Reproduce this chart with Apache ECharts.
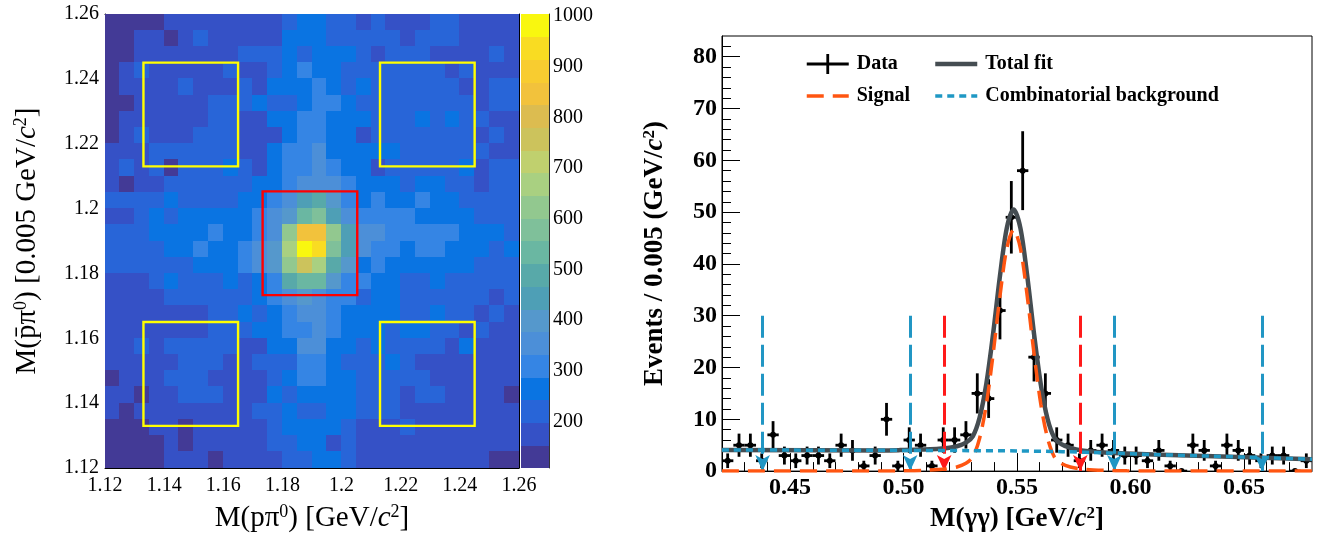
<!DOCTYPE html>
<html>
<head>
<meta charset="utf-8">
<script src="https://cdn.jsdelivr.net/npm/echarts@6/dist/echarts.min.js"></script>
<style>
  html, body { margin: 0; padding: 0; background: #ffffff; }
  #chart { width: 1325px; height: 538px; }
</style>
</head>
<body>
<div id="chart"></div>
<script>
const SERIF = "'Liberation Serif', 'Times New Roman', 'DejaVu Serif', serif";

// ---------- 2D histogram: M(p pi0) vs M(pbar pi0), 0.005 GeV bins ----------
const massLow = 1.12;
const massBinWidth = 0.005;
const nMassBins = 28;
// bin contents, rows from the top (M(pbar pi0) = 1.255-1.26) to the bottom (1.12-1.125)
const counts2D = [
  [130,130,130,130,175,175,175,175,175,175,175,175,220,265, 265,220,220,175,220,175,175,175,220,220,175,175,175,175],
  [130,130,175,175,130,175,220,175,175,175,175,175,265,265, 265,220,220,220,220,220,175,220,220,220,175,175,175,175],
  [130,130,175,175,175,175,175,175,175,220,220,220,265,220, 265,265,265,220,175,220,220,220,175,175,175,175,220,175],
  [130,175,220,175,175,175,175,175,220,175,175,220,265,310, 265,265,220,220,220,220,220,220,220,175,220,175,175,175],
  [130,175,175,175,175,220,175,175,175,220,175,265,265,265, 310,265,220,265,220,220,220,220,220,220,175,175,220,220],
  [130,130,175,175,175,175,175,220,220,220,265,220,220,265, 310,310,265,220,220,220,220,220,220,220,220,175,220,220],
  [130,175,175,175,175,175,175,220,220,175,175,265,265,310, 310,265,265,265,220,220,220,265,220,265,220,220,175,175],
  [130,175,220,175,175,175,220,220,220,175,175,175,265,310, 310,265,265,175,220,220,220,220,220,220,220,175,220,175],
  [175,175,175,220,220,220,220,220,220,175,175,265,310,310, 355,265,265,265,265,265,220,220,220,220,220,220,175,175],
  [175,220,175,220,130,220,220,220,265,220,175,265,310,310, 355,310,265,265,175,220,220,220,220,220,265,175,220,220],
  [175,130,175,175,220,220,220,220,220,220,265,265,310,355, 355,355,310,265,265,265,220,265,265,220,220,175,220,220],
  [220,220,220,220,265,220,220,220,220,265,265,310,355,445, 490,400,310,265,310,265,265,310,265,265,220,220,220,220],
  [175,175,220,265,220,265,265,265,265,265,310,355,400,535, 580,445,355,310,310,310,310,265,265,265,265,220,220,220],
  [220,220,220,265,265,265,265,310,265,265,310,355,625,850, 850,625,445,355,355,310,310,310,310,310,265,265,265,220],
  [220,220,220,220,265,265,310,265,265,310,355,400,670,1004,935,580,445,355,310,310,265,310,310,265,265,265,220,265],
  [220,220,220,220,220,220,265,265,265,310,355,400,625,760, 670,490,400,265,310,265,265,265,265,265,265,220,220,220],
  [175,175,175,220,265,220,220,220,265,220,265,310,490,535, 535,400,310,310,265,265,220,220,265,220,220,220,220,220],
  [175,175,175,175,220,220,220,220,220,220,265,310,355,400, 355,310,310,220,265,265,220,220,220,220,220,220,175,220],
  [175,175,175,175,175,175,175,220,220,265,220,265,310,355, 355,310,265,265,265,265,220,220,265,220,220,175,220,175],
  [175,175,175,175,175,175,175,220,220,220,265,265,310,310, 355,310,265,265,265,220,265,265,220,220,175,220,175,175],
  [175,175,220,175,220,220,220,220,220,175,175,265,265,355, 355,265,265,220,265,220,220,220,220,175,265,175,175,175],
  [175,175,175,175,175,220,220,220,175,175,220,220,220,310, 310,265,220,220,220,265,220,175,175,175,175,175,175,175],
  [130,175,175,175,220,220,220,175,175,175,175,220,265,310, 310,265,265,220,220,220,220,220,175,175,175,175,175,175],
  [175,175,130,175,175,220,220,220,175,175,175,265,220,265, 265,265,265,220,220,220,175,220,220,175,175,175,175,130],
  [175,130,175,175,175,175,175,175,175,175,220,220,265,220, 220,265,265,220,220,220,175,175,175,175,175,175,175,175],
  [130,130,130,175,175,130,175,175,175,175,175,220,265,265, 265,265,220,175,175,175,220,175,175,175,175,175,175,175],
  [130,130,130,130,175,130,175,175,175,175,175,220,220,265, 265,175,220,175,175,175,175,175,175,175,175,175,175,175],
  [130,130,130,130,175,175,175,130,175,175,175,175,220,220, 265,265,220,175,175,175,175,175,175,175,175,175,130,130]
];
// colour scale range and its 20 contour colours (low to high)
const zMin = 108.5;
const zMax = 1004;
const birdContours = [
  '#433a96', '#3551c6', '#2865d8', '#0a74e2', '#3585e4',
  '#4c8fd8', '#5598cc', '#4e9fb6', '#58a9a9', '#6ab7a2',
  '#7fc09a', '#92c88f', '#a9d081', '#c0d06e', '#ccc35c',
  '#dcbc50', '#f2c23c', '#f8cc30', '#f9dc22', '#f9f70f'
];
const colorbarTicks = [200, 300, 400, 500, 600, 700, 800, 900, 1000];

// Sigma+ signal window and the sideband windows (same in both masses)
const signalWindow = [1.1733, 1.2053];
const sidebandWindows = [[1.1330, 1.1650], [1.2130, 1.2450]];

// ---------- M(gamma gamma) fit ----------
const ggLow = 0.42;
const ggBinWidth = 0.005;
const ggCounts = [2,5,5,2,7,3,2,3,3,2,5,4,1,3,10,1,6,5,1,6,6,7,15,14,31,49,58,22,15,6,5,2,4,5,4,3,3,2,4,1,0,5,4,1,5,4,3,2,3,3,0,2];

const signalX = [0.420,0.490,0.4985,0.5085,0.5185,0.5235,0.5275,0.5305,0.5335,0.5365,0.5395,0.5425,0.5455,0.5485,0.5515,0.5545,0.5575,0.5605,0.5635,0.5665,0.5695,0.5735,0.5785,0.5885,0.5985,0.610,0.680];
const signalY = [0,0,0.05,0.15,0.4,0.8,1.5,2.7,6.3,12.9,22.7,33.8,43.0,46.6,43.0,33.8,22.7,12.9,6.3,2.7,1.5,0.8,0.4,0.15,0.05,0,0];
const totalX = signalX;
const totalY = [4.05,4.0,4.05,4.15,4.4,4.8,5.5,6.7,10.3,16.9,26.6,37.7,46.9,50.5,46.9,37.7,26.5,16.7,10.0,6.4,5.2,4.5,4.0,3.6,3.4,3.2,2.3];
const bkgX = [0.42,0.45,0.50,0.53,0.55,0.57,0.59,0.61,0.63,0.65,0.68];
const bkgY = [4.05,4.05,4.0,3.95,3.9,3.75,3.5,3.2,2.95,2.7,2.3];

const signalCuts = [0.5179, 0.5779];
const sidebandCuts = [0.4379, 0.5029, 0.5929, 0.6579];
const cutHeight = 30;

const ggMajorTicks = [0.45, 0.50, 0.55, 0.60, 0.65];
const ggMinorTicks = [0.43,0.44,0.46,0.47,0.48,0.49,0.51,0.52,0.53,0.54,0.56,0.57,0.58,0.59,0.61,0.62,0.63,0.64,0.66,0.67];
const eventMajorTicks = [0, 10, 20, 30, 40, 50, 60, 70, 80];
const eventMinorTicks = [2,4,6,8,12,14,16,18,22,24,26,28,32,34,36,38,42,44,46,48,52,54,56,58,62,64,66,68,72,74,76,78,82];

// ---------- build series data ----------
const heatData = [];
counts2D.forEach((row, r) => {
  row.forEach((v, c) => {
    const x = massLow + (c + 0.5) * massBinWidth;
    const y = massLow + (nMassBins - r - 0.5) * massBinWidth;
    heatData.push([x, y, v]);
  });
});
const zStep = (zMax - zMin) / birdContours.length;
const colorbarData = birdContours.map((_, i) => [0, zMin + i * zStep, zMin + (i + 0.5) * zStep]);
const contourPieces = birdContours.map((color, i) => (
  i === birdContours.length - 1
    ? { gte: zMin + i * zStep, lte: zMax + 1, color }
    : { gte: zMin + i * zStep, lt: zMin + (i + 1) * zStep, color }
));

const sidebandBoxes = [];
sidebandWindows.forEach(wx => sidebandWindows.forEach(wy => sidebandBoxes.push([wx[0], wy[0], wx[1], wy[1]])));
const signalBoxes = [[signalWindow[0], signalWindow[0], signalWindow[1], signalWindow[1]]];

const ggData = ggCounts.map((n, i) => [ggLow + (i + 0.5) * ggBinWidth, n]);
const pairs = (xs, ys) => xs.map((x, i) => [x, ys[i]]);

// ---------- renderers ----------
function renderCell(params, api) {
  const h = massBinWidth / 2;
  const a = api.coord([api.value(0) - h, api.value(1) + h]);
  const b = api.coord([api.value(0) + h, api.value(1) - h]);
  // snap outward to whole pixels so neighbouring cells overlap instead of leaving seams
  const x0 = Math.floor(a[0]), y0 = Math.floor(a[1]);
  const x1 = Math.ceil(b[0]), y1 = Math.ceil(b[1]);
  return { type: 'rect', shape: { x: x0, y: y0, width: x1 - x0, height: y1 - y0 },
           style: { fill: api.visual('color') } };
}
function renderColorbar(params, api) {
  const a = api.coord([0, api.value(1) + zStep]);
  const b = api.coord([1, api.value(1)]);
  const y0 = Math.floor(a[1]), y1 = Math.ceil(b[1]);
  return { type: 'rect', shape: { x: a[0], y: y0, width: b[0] - a[0], height: y1 - y0 },
           style: { fill: api.visual('color') } };
}
function renderBox(params, api) {
  const a = api.coord([api.value(0), api.value(3)]);
  const b = api.coord([api.value(2), api.value(1)]);
  return { type: 'rect', shape: { x: a[0], y: a[1], width: b[0] - a[0], height: b[1] - a[1] },
           style: { fill: null, stroke: api.visual('color'), lineWidth: 2.4 } };
}
function renderPoint(params, api) {
  const x = api.value(0), n = api.value(1);
  const err = Math.sqrt(n);
  const h = ggBinWidth / 2;
  const l = api.coord([x - h, n]), r = api.coord([x + h, n]);
  const t = api.coord([x, n + err]), b = api.coord([x, Math.max(n - err, 0)]);
  const c = api.coord([x, n]);
  const st = { stroke: '#000', lineWidth: 2.8 };
  const children = [
    { type: 'line', shape: { x1: l[0], y1: l[1], x2: r[0], y2: r[1] }, style: st },
    { type: 'circle', shape: { cx: c[0], cy: c[1], r: 3 }, style: { fill: '#000' } }
  ];
  if (n > 0) children.push({ type: 'line', shape: { x1: t[0], y1: t[1], x2: b[0], y2: b[1] }, style: st });
  return { type: 'group', children };
}

// ---------- text styles ----------
const plainTick = { fontFamily: SERIF, fontSize: 20, color: '#000' };
const boldTick = { fontFamily: SERIF, fontSize: 24, fontWeight: 'bold', color: '#000' };
const richPlain = {
  i: { fontFamily: SERIF, fontSize: 29, fontStyle: 'italic', color: '#000' },
  s: { fontFamily: SERIF, fontSize: 18, color: '#000', verticalAlign: 'top', lineHeight: 30 }
};
const richBold = {
  i: { fontFamily: SERIF, fontSize: 27, fontStyle: 'italic', fontWeight: 'bold', color: '#000' },
  s: { fontFamily: SERIF, fontSize: 17, fontWeight: 'bold', color: '#000', verticalAlign: 'top', lineHeight: 29 }
};
const legendText = { fontFamily: SERIF, fontSize: 20, fontWeight: 'bold', color: '#000', padding: [0, 0, 0, 3] };
const hiddenMarker = { opacity: 0 };

const frameLine = { show: true, onZero: false, lineStyle: { color: '#000', width: 1 } };
const heatTick = { show: true, inside: true, length: 12, lineStyle: { color: '#000', width: 1 } };
const heatMinor = { show: true, splitNumber: 4, length: 6, lineStyle: { color: '#000', width: 1 } };

const chart = echarts.init(document.getElementById('chart'), null, { renderer: 'canvas' });
chart.setOption({
  animation: false,
  backgroundColor: '#ffffff',
  grid: [
    { left: 105, top: 14, width: 414, height: 454 },
    { left: 521, top: 14, width: 28, height: 454 },
    { left: 722, top: 36, width: 590, height: 441, show: true, borderColor: '#000', borderWidth: 1, backgroundColor: 'transparent' }
  ],
  xAxis: [
    { gridIndex: 0, type: 'value', min: 1.12, max: 1.26, interval: 0.02, position: 'bottom',
      axisLine: frameLine, axisTick: heatTick, minorTick: heatMinor, splitLine: { show: false },
      axisLabel: Object.assign({ margin: 8 }, plainTick),
      name: 'M(pπ{s|0}) [GeV/{i|c}{s|2}]', nameLocation: 'middle', nameGap: 35,
      nameTextStyle: { fontFamily: SERIF, fontSize: 29, color: '#000', rich: richPlain } },
    { gridIndex: 0, type: 'value', min: 1.12, max: 1.26, interval: 0.02, position: 'top',
      axisLine: frameLine, axisTick: heatTick, minorTick: heatMinor, splitLine: { show: false },
      axisLabel: { show: false } },
    { gridIndex: 1, type: 'value', min: 0, max: 1, show: false },
    { gridIndex: 2, type: 'value', min: 0.42, max: 0.68, position: 'bottom',
      axisLine: frameLine, splitLine: { show: false },
      axisTick: { show: true, inside: true, length: 18, customValues: ggMajorTicks, lineStyle: { color: '#000', width: 1 } },
      axisLabel: Object.assign({ customValues: ggMajorTicks, margin: 5, formatter: v => v.toFixed(2) }, boldTick),
      name: 'M(γγ) [GeV/{i|c}{s|2}]', nameLocation: 'middle', nameGap: 29,
      nameTextStyle: { fontFamily: SERIF, fontSize: 27, fontWeight: 'bold', color: '#000', rich: richBold } },
    { gridIndex: 2, type: 'value', min: 0.42, max: 0.68, position: 'bottom',
      axisLine: { show: false, onZero: false }, splitLine: { show: false }, axisLabel: { show: false },
      axisTick: { show: true, inside: true, length: 9, customValues: ggMinorTicks, lineStyle: { color: '#000', width: 1 } } }
  ],
  yAxis: [
    { gridIndex: 0, type: 'value', min: 1.12, max: 1.26, interval: 0.02, position: 'left',
      axisLine: frameLine, axisTick: heatTick, minorTick: heatMinor, splitLine: { show: false },
      axisLabel: Object.assign({ margin: 6 }, plainTick),
      name: 'M(p\u0304π{s|0}) [0.005 GeV/{i|c}{s|2}]', nameLocation: 'middle', nameGap: 63,
      nameTextStyle: { fontFamily: SERIF, fontSize: 29, color: '#000', rich: richPlain } },
    { gridIndex: 0, type: 'value', min: 1.12, max: 1.26, interval: 0.02, position: 'right',
      axisLine: frameLine, axisTick: heatTick, minorTick: heatMinor, splitLine: { show: false },
      axisLabel: { show: false } },
    { gridIndex: 1, type: 'value', min: zMin, max: zMax, position: 'right',
      axisLine: { show: true, onZero: false, lineStyle: { color: '#333', width: 1 } },
      axisTick: { show: true, inside: true, length: 14, customValues: colorbarTicks, lineStyle: { color: '#000', width: 1.2 } },
      axisLabel: Object.assign({ customValues: colorbarTicks, margin: 4, formatter: v => String(v) }, plainTick),
      splitLine: { show: false } },
    { gridIndex: 2, type: 'value', min: 0, max: 84, position: 'left',
      axisLine: frameLine, splitLine: { show: false },
      axisTick: { show: true, inside: true, length: 18, customValues: eventMajorTicks, lineStyle: { color: '#000', width: 1 } },
      axisLabel: Object.assign({ customValues: eventMajorTicks, margin: 5 }, boldTick),
      name: 'Events / 0.005 (GeV/{i|c}{s|2})', nameLocation: 'middle', nameGap: 52,
      nameTextStyle: { fontFamily: SERIF, fontSize: 27, fontWeight: 'bold', color: '#000', rich: richBold } },
    { gridIndex: 2, type: 'value', min: 0, max: 84, position: 'left',
      axisLine: { show: false, onZero: false }, splitLine: { show: false }, axisLabel: { show: false },
      axisTick: { show: true, inside: true, length: 9, customValues: eventMinorTicks, lineStyle: { color: '#000', width: 1 } } }
  ],
  visualMap: {
    type: 'piecewise', show: false, dimension: 2, seriesIndex: [0, 1],
    pieces: contourPieces
  },
  legend: [
    { left: 805, top: 54, padding: 0, orient: 'vertical', itemGap: 12, itemWidth: 42, itemHeight: 20,
      selectedMode: false, lineStyle: { width: 'inherit' }, textStyle: legendText,
      data: [{ name: 'Data', icon: 'path://M0,8.6h42v2.8h-42z M19.6,0h2.8v20h-2.8z' },
             { name: 'Signal', itemStyle: hiddenMarker }] },
    { left: 933, top: 54, padding: 0, orient: 'vertical', itemGap: 12, itemWidth: 42, itemHeight: 20,
      selectedMode: false, lineStyle: { width: 'inherit' }, textStyle: legendText,
      data: [{ name: 'Total fit', itemStyle: hiddenMarker },
             { name: 'Combinatorial background', itemStyle: hiddenMarker }] }
  ],
  series: [
    { type: 'custom', name: 'counts', xAxisIndex: 0, yAxisIndex: 0, renderItem: renderCell,
      data: heatData, silent: true },
    { type: 'custom', name: 'colorbar', xAxisIndex: 2, yAxisIndex: 2, renderItem: renderColorbar,
      data: colorbarData, silent: true },
    { type: 'custom', name: 'sidebands', xAxisIndex: 0, yAxisIndex: 0, renderItem: renderBox,
      itemStyle: { color: '#ffff00' }, data: sidebandBoxes, silent: true, z: 5 },
    { type: 'custom', name: 'signal region', xAxisIndex: 0, yAxisIndex: 0, renderItem: renderBox,
      itemStyle: { color: '#ff0000' }, data: signalBoxes, silent: true, z: 5 },
    { type: 'custom', name: 'Data', xAxisIndex: 3, yAxisIndex: 3, renderItem: renderPoint,
      itemStyle: { color: '#000' }, data: ggData, silent: true, clip: true, z: 3 },
    { type: 'line', name: 'Total fit', xAxisIndex: 3, yAxisIndex: 3, data: pairs(totalX, totalY),
      symbol: 'none', smooth: 0.3, lineStyle: { color: '#454d52', width: 4.5 }, itemStyle: { color: '#454d52' }, silent: true, z: 4 },
    { type: 'line', name: 'Signal', xAxisIndex: 3, yAxisIndex: 3, data: pairs(signalX, signalY),
      symbol: 'none', smooth: 0.3, lineStyle: { color: '#ff5511', width: 3.5, type: [17, 9] }, itemStyle: { color: '#ff5511' }, silent: true, z: 5 },
    { type: 'line', name: 'Combinatorial background', xAxisIndex: 3, yAxisIndex: 3, data: pairs(bkgX, bkgY),
      symbol: 'none', smooth: 0.3, lineStyle: { color: '#1f98c4', width: 3.5, type: [7, 5] }, itemStyle: { color: '#1f98c4' }, silent: true, z: 6 },
    { type: 'line', name: 'windows', xAxisIndex: 3, yAxisIndex: 3, data: [], silent: true, z: 7,
      markLine: {
        silent: true, animation: false, symbol: ['none', 'arrow'], symbolSize: [11, 16],
        label: { show: false },
        data: sidebandCuts.map(x => [
          { coord: [x, cutHeight], lineStyle: { color: '#2196c4', width: 3, type: [22, 7] }, itemStyle: { color: '#2196c4' } },
          { coord: [x, 0] }
        ]).concat(signalCuts.map(x => [
          { coord: [x, cutHeight], lineStyle: { color: '#ff1a1a', width: 3, type: [22, 7] }, itemStyle: { color: '#ff1a1a' } },
          { coord: [x, 0] }
        ]))
      } }
  ]
});
</script>
</body>
</html>
